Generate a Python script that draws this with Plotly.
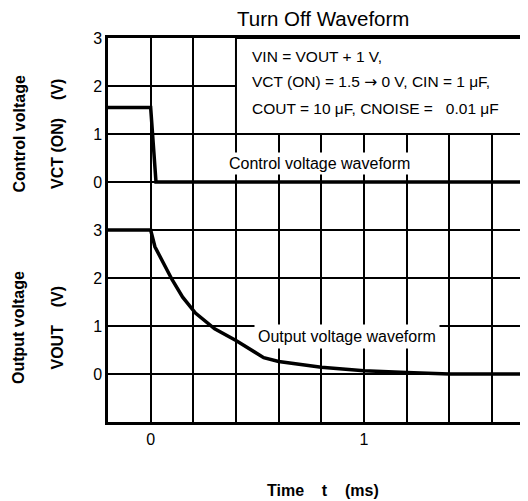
import plotly.graph_objects as go
from plotly.subplots import make_subplots

# ---- data ----
ctrl_t = [-0.2, 0.0, 0.025, 1.8]
ctrl_v = [1.55, 1.55, 0.0, 0.0]

out_t = [-0.2, 0.0, 0.02, 0.05, 0.1, 0.15, 0.21, 0.3, 0.4, 0.53, 0.6, 0.8, 1.0, 1.2, 1.4, 1.8]
out_v = [3.0, 3.0, 2.65, 2.38, 1.97, 1.6, 1.27, 0.94, 0.7, 0.34, 0.26, 0.14, 0.07, 0.03, 0.0, 0.0]

x_grid_ticks = [-0.2, 0.0, 0.2, 0.4, 0.6, 0.8, 1.0, 1.2, 1.4, 1.6]
x_tick_labels = ["", "0", "", "", "", "", "1", "", "", ""]
y_ticks = [-1, 0, 1, 2, 3]
y_tick_labels = ["", "0", "1", "2", "3"]

title_text = "Turn Off Waveform"
ARROW = "<span style=\"font-family:'DejaVu Sans'\">\u2192</span>"
cond_lines = [
    "VIN = VOUT + 1 V,",
    "VCT (ON) = 1.5 " + ARROW + " 0 V, CIN = 1 \u03bcF,",
    "COUT = 10 \u03bcF, CNOISE = \u00a0\u00a00.01 \u03bcF",
]
NB = "\u00a0" * 4

FONT = "Arial, Liberation Sans, sans-serif"

# page offset of the figure (default body margin)
OFF = 8
W, H = 528 - OFF, 501 - OFF
# plot area in page pixels
PL, PR, PT, PB = 108, 528, 38, 422
L, R, T, B = PL - OFF, PR - OFF, PT - OFF, PB - OFF
PANEL_PX = (PB - PT) / 2          # 192 px per panel
UNIT_PX = PANEL_PX / 4            # 48 px per volt
EXTRA = 4                          # px headroom so the 3 V line isn't clipped


def px(xp):
    return (xp - PL) / (PR - PL)


def py(yp):
    return (PB - yp) / (PB - PT)


fig = make_subplots(rows=2, cols=1, shared_xaxes=True, vertical_spacing=0)

fig.add_trace(go.Scatter(x=ctrl_t, y=ctrl_v, mode="lines",
                         line=dict(color="black", width=3.5), showlegend=False,
                         hoverinfo="skip"), row=1, col=1)
fig.add_trace(go.Scatter(x=out_t, y=out_v, mode="lines",
                         line=dict(color="black", width=3.5),
                         showlegend=False, hoverinfo="skip"), row=2, col=1)

xr = [-0.2, -0.2 + (PR - PL) / 213.3]
common_x = dict(range=xr, tickmode="array", tickvals=x_grid_ticks, ticktext=x_tick_labels,
                showgrid=True, gridcolor="black", gridwidth=2, zeroline=False,
                ticks="", tickfont=dict(family=FONT, size=16, color="black"),
                linecolor="black", linewidth=2.5, showline=True)
fig.update_xaxes(**common_x)
fig.update_xaxes(side="top", showticklabels=False, row=1, col=1)
fig.update_xaxes(ticklabelstandoff=1, row=2, col=1)

common_y = dict(range=[-1, 3], tickmode="array", tickvals=y_ticks, ticktext=y_tick_labels,
                showgrid=True, gridcolor="black", gridwidth=1.6, zeroline=False,
                ticks="", tickfont=dict(family=FONT, size=16, color="black"),
                linecolor="black", linewidth=2.5, showline=True, ticklabelstandoff=0)
fig.update_yaxes(**common_y)
fig.update_yaxes(domain=[0.5, 1.0], row=1, col=1)
fig.update_yaxes(domain=[0.0, (PANEL_PX + EXTRA) / (PB - PT)],
                 range=[-1, 3 + EXTRA / UNIT_PX], row=2, col=1)

# white condition box over the grid
fig.add_shape(type="rect", xref="x", yref="y", x0=0.4, x1=2.0, y0=1, y1=3,
              fillcolor="white", line=dict(color="black", width=2), layer="between")

ann = []
ann.append(dict(text=title_text, xref="paper", yref="paper", x=px(323), y=py(19),
                xanchor="center", yanchor="middle", showarrow=False,
                font=dict(family=FONT, size=20.5, color="black")))
for txt, yc in zip(cond_lines, [56, 82.5, 108.5]):
    ann.append(dict(text=txt, xref="paper", yref="paper", x=px(249.5), y=py(yc),
                    xanchor="left", yanchor="middle", showarrow=False,
                    font=dict(family=FONT, size=15.5, color="black")))
ann.append(dict(text="Control voltage waveform", xref="paper", yref="paper",
                x=px(319.5), y=py(163), xanchor="center", yanchor="middle", showarrow=False,
                bgcolor="white", borderpad=2, font=dict(family=FONT, size=16, color="black")))
ann.append(dict(text="Output voltage waveform", xref="paper", yref="paper",
                x=px(346.7), y=py(336.5), xanchor="center", yanchor="middle", showarrow=False,
                bgcolor="white", borderpad=3, font=dict(family=FONT, size=16, color="black")))
# axis titles
for txt, xc, yc in [("<b>Control voltage</b>", 18.5, 134),
                    ("<b>VCT (ON)" + NB + "(V)</b>", 57, 134),
                    ("<b>Output voltage</b>", 18.5, 327.5),
                    ("<b>VOUT" + NB + "(V)</b>", 57, 327.5)]:
    ann.append(dict(text=txt, xref="paper", yref="paper", x=px(xc), y=py(yc),
                    xanchor="center", yanchor="middle", textangle=-90, showarrow=False,
                    font=dict(family=FONT, size=16, color="black")))
ann.append(dict(text="<b>Time" + NB + "t" + NB + "(ms)</b>", xref="paper", yref="paper",
                x=px(323), y=py(490), xanchor="center", yanchor="middle", showarrow=False,
                font=dict(family=FONT, size=16, color="black")))

fig.update_layout(width=W, height=H, margin=dict(l=L, r=W - R, t=T, b=H - B),
                  paper_bgcolor="white", plot_bgcolor="rgba(0,0,0,0)", annotations=ann,
                  showlegend=False)

fig.write_html("out.html")
